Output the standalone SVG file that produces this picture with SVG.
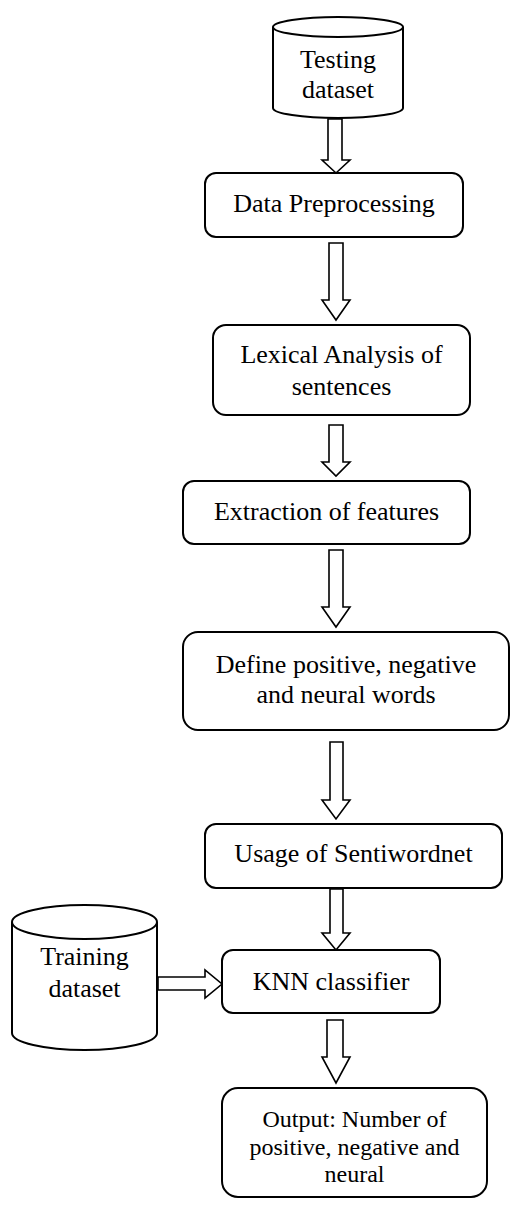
<svg xmlns="http://www.w3.org/2000/svg" width="511" height="1207" viewBox="0 0 511 1207">
<style>
.box{fill:#fff;stroke:#000;stroke-width:2}
.cyl{fill:#fff;stroke:#000;stroke-width:2}
.arr{fill:#fff;stroke:#000;stroke-width:1.6;stroke-linejoin:miter}
.t{font-family:"Liberation Serif","Times New Roman",serif;font-size:26px;fill:#000;text-anchor:middle}
.s{font-size:24px}
</style>
<rect width="511" height="1207" fill="#fff"/>
<g id="connectors">
<path class="arr" d="M328,119 V160 H322 L336,173 L350,160 H342 V119 Z"/>
<path class="arr" d="M329,243 V300 H322 L336,320 L350,300 H343 V243 Z"/>
<path class="arr" d="M329,425 V462 H322 L336,476 L350,462 H343 V425 Z"/>
<path class="arr" d="M329,550 V607 H322 L336,627 L350,607 H343 V550 Z"/>
<path class="arr" d="M330,742 V800 H322 L336,819 L350,800 H343 V742 Z"/>
<path class="arr" d="M330,889 V933 H322 L336,950 L350,933 H343 V889 Z"/>
<path class="arr" d="M327,1020 V1057 H322 L336,1083 L350,1057 H343 V1020 Z"/>
<path class="arr" d="M158,977 H205 V970 L222,984 L205,998 V990 H158 Z"/>
</g>
<g id="testing-dataset">
<path class="cyl" d="M273,27 V108 A65,10 0 0 0 403,108 V27"/>
<ellipse class="cyl" cx="338" cy="27" rx="65" ry="10"/>
<text class="t" x="338" y="68">Testing</text>
<text class="t" x="338" y="98">dataset</text>
</g>
<g id="data-preprocessing">
<rect class="box" x="205" y="173" width="258" height="64" rx="11"/>
<text class="t" x="334" y="212">Data Preprocessing</text>
</g>
<g id="lexical-analysis">
<rect class="box" x="213" y="325" width="257" height="90" rx="13"/>
<text class="t" x="341.5" y="363">Lexical Analysis of</text>
<text class="t" x="341.5" y="395">sentences</text>
</g>
<g id="extraction">
<rect class="box" x="183" y="481" width="287" height="63" rx="11"/>
<text class="t" x="326.5" y="520">Extraction of features</text>
</g>
<g id="define-words">
<rect class="box" x="183" y="632" width="326" height="98" rx="15"/>
<text class="t" x="346" y="673">Define positive, negative</text>
<text class="t" x="346" y="703">and neural words</text>
</g>
<g id="sentiwordnet">
<rect class="box" x="205" y="824" width="297" height="64" rx="11"/>
<text class="t" x="353.5" y="862">Usage of Sentiwordnet</text>
</g>
<g id="training-dataset">
<path class="cyl" d="M12,922 V1033 A72.5,17 0 0 0 157,1033 V922"/>
<ellipse class="cyl" cx="84.5" cy="922" rx="72.5" ry="17"/>
<text class="t" x="84.5" y="965">Training</text>
<text class="t" x="84.5" y="997">dataset</text>
</g>
<g id="knn-classifier">
<rect class="box" x="222" y="950" width="218" height="63" rx="11"/>
<text class="t" x="331" y="990">KNN classifier</text>
</g>
<g id="output">
<rect class="box" x="222" y="1088" width="265" height="109" rx="16"/>
<text class="t s" x="354.5" y="1127">Output: Number of</text>
<text class="t s" x="354.5" y="1155">positive, negative and</text>
<text class="t s" x="354.5" y="1182">neural</text>
</g>
</svg>
